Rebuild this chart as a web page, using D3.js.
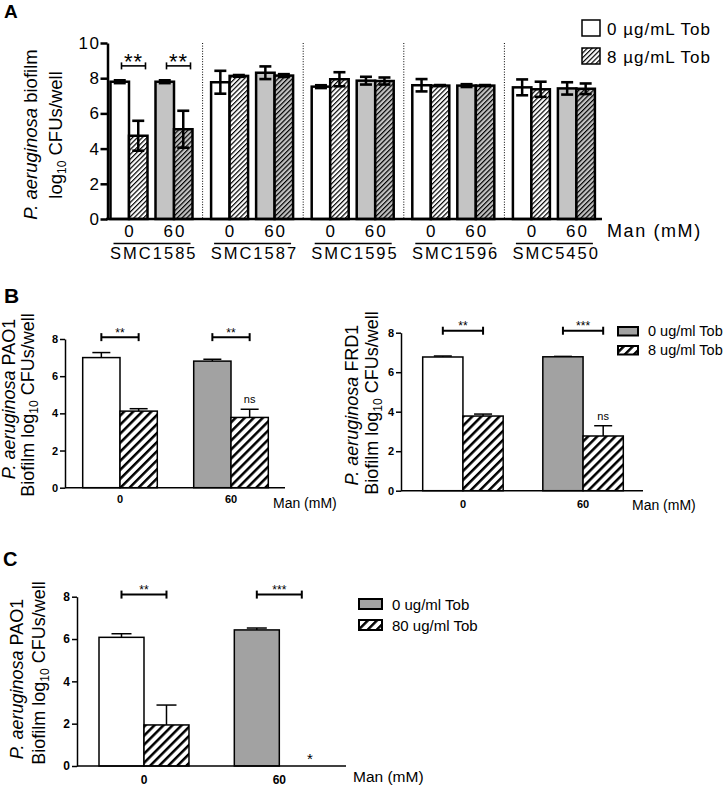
<!DOCTYPE html>
<html><head><meta charset="utf-8">
<script src="https://cdn.jsdelivr.net/npm/d3@7"></script>
<style>body{margin:0;background:#fff} svg{display:block}</style>
</head><body><svg id="c" width="727" height="786"></svg>
<script>
// ================= DATA =================
// Panel A
const strainsA = ["SMC1585", "SMC1587", "SMC1595", "SMC1596", "SMC5450"];
const manA = ["0", "60"];
const tobA = ["0", "8"];
const meanA_m0_t0  = [7.80, 7.77, 7.52, 7.60, 7.48];
const errA_m0_t0   = [0.08, 0.65, 0.08, 0.35, 0.45];
const meanA_m0_t8  = [4.73, 8.13, 7.94, 7.58, 7.37];
const errA_m0_t8   = [0.85, 0.05, 0.40, 0.03, 0.43];
const meanA_m60_t0 = [7.80, 8.31, 7.86, 7.58, 7.42];
const errA_m60_t0  = [0.08, 0.36, 0.22, 0.08, 0.35];
const meanA_m60_t8 = [5.10, 8.15, 7.84, 7.58, 7.40];
const errA_m60_t8  = [1.05, 0.08, 0.20, 0.03, 0.30];
const sigA_strain = "SMC1585";
const sigA_labels = ["**", "**"];
const ticksA = [0, 2, 4, 6, 8, 10];
const legendA = ["0 \u00b5g/mL Tob", "8 \u00b5g/mL Tob"];

// Panel B (left, PAO1)
const manB = ["0", "60"];
const meanB1_t0 = [7.00, 6.81];
const errB1_t0  = [0.27, 0.10];
const meanB1_t8 = [4.12, 3.78];
const errB1_t8  = [0.13, 0.44];
const sigB1 = ["**", "**"];
const noteB1 = ["", "ns"];

// Panel B (right, FRD1)
const meanB2_t0 = [6.77, 6.78];
const errB2_t0  = [0.05, 0.02];
const meanB2_t8 = [3.78, 2.77];
const errB2_t8  = [0.10, 0.52];
const sigB2 = ["**", "***"];
const noteB2 = ["", "ns"];
const legendB = ["0 ug/ml Tob", "8 ug/ml Tob"];

// Panel C (PAO1, 80 ug/ml)
const manC = ["0", "60"];
const meanC_t0  = [6.08, 6.43];
const errC_t0   = [0.17, 0.09];
const meanC_t80 = [1.94, 0.00];
const errC_t80  = [0.94, 0.00];
const sigC = ["**", "***"];
const noteC = ["", "*"];
const legendC = ["0 ug/ml Tob", "80 ug/ml Tob"];

const ticksBC = [0, 2, 4, 6, 8];

// ================= DRAWING =================
const FONT = "'Liberation Sans', Arial, Helvetica, sans-serif";
const GREY_A = "#c4c4c4";
const GREY_B = "#a2a2a2";
const svg = d3.select("#c").attr("font-family", FONT);
svg.append("rect").attr("width", 727).attr("height", 786).attr("fill", "#fff");
const defs = svg.append("defs");

function hatch(id, bg, spacing, sw) {
  const p = defs.append("pattern").attr("id", id)
    .attr("patternUnits", "userSpaceOnUse")
    .attr("width", spacing).attr("height", spacing)
    .attr("patternTransform", "rotate(45)");
  p.append("rect").attr("width", spacing).attr("height", spacing).attr("fill", bg);
  p.append("line").attr("x1", sw / 2).attr("x2", sw / 2).attr("y1", -1).attr("y2", spacing + 1)
    .attr("stroke", "#000").attr("stroke-width", sw);
}
hatch("hA", "#fff", 3.4, 1.2);
hatch("hAg", GREY_A, 3.4, 1.2);
hatch("hB", "#fff", 6.4, 2.5);

// ---------- Panel A ----------
(function () {
  const yA = d3.scaleLinear().domain([0, 10]).range([219, 43]);
  const xA = d3.scaleBand().domain(strainsA).range([102, 605]);
  const xMan = d3.scaleBand().domain(manA).range([8.5, 90.5]).paddingInner(0.178);
  const xTob = d3.scaleBand().domain(tobA).range([0, xMan.bandwidth()]);
  const bw = xTob.bandwidth();

  const rec = [];
  strainsA.forEach((s, i) => {
    rec.push({ s, man: "0", tob: "0", m: meanA_m0_t0[i], e: errA_m0_t0[i] });
    rec.push({ s, man: "0", tob: "8", m: meanA_m0_t8[i], e: errA_m0_t8[i] });
    rec.push({ s, man: "60", tob: "0", m: meanA_m60_t0[i], e: errA_m60_t0[i] });
    rec.push({ s, man: "60", tob: "8", m: meanA_m60_t8[i], e: errA_m60_t8[i] });
  });
  const fill = d => d.man === "0" ? (d.tob === "0" ? "#fff" : "url(#hA)") : (d.tob === "0" ? GREY_A : "url(#hAg)");
  const bx = d => xA(d.s) + xMan(d.man) + xTob(d.tob);

  const g = svg.append("g");
  // dotted separators
  strainsA.slice(0, -1).forEach(s => {
    const xx = xA(s) + xA.step();
    g.append("line").attr("x1", xx).attr("x2", xx).attr("y1", yA(10)).attr("y2", yA(0))
      .attr("stroke", "#000").attr("stroke-width", 1).attr("stroke-dasharray", "1,1.6");
  });

  g.selectAll("rect.bar").data(rec).enter().append("rect").attr("class", "bar")
    .attr("x", bx).attr("y", d => yA(d.m)).attr("width", bw).attr("height", d => yA(0) - yA(d.m))
    .attr("fill", fill).attr("stroke", "#000").attr("stroke-width", 2.5);

  // error bars
  const eb = g.selectAll("g.eb").data(rec).enter().append("g").attr("class", "eb");
  eb.append("line").attr("x1", d => bx(d) + bw / 2).attr("x2", d => bx(d) + bw / 2)
    .attr("y1", d => yA(d.m - d.e)).attr("y2", d => yA(d.m + d.e))
    .attr("stroke", "#000").attr("stroke-width", 2.5);
  [1, -1].forEach(sg => {
    eb.append("line").attr("x1", d => bx(d) + bw / 2 - 6).attr("x2", d => bx(d) + bw / 2 + 6)
      .attr("y1", d => yA(d.m + sg * d.e)).attr("y2", d => yA(d.m + sg * d.e))
      .attr("stroke", "#000").attr("stroke-width", 2.6);
  });

  // axes
  const ax = g.append("g").attr("transform", "translate(107.5,0)")
    .call(d3.axisLeft(yA).tickValues(ticksA).tickSize(7).tickSizeOuter(0).tickPadding(0));
  ax.select(".domain").attr("stroke-width", 2.5);
  ax.selectAll(".tick line").attr("stroke-width", 2.5);
  ax.selectAll(".tick text").attr("font-size", 17).attr("font-family", FONT)
    .attr("letter-spacing", "1.5px").attr("fill", "#000");
  g.append("line").attr("x1", 106).attr("x2", 602).attr("y1", yA(0)).attr("y2", yA(0))
    .attr("stroke", "#000").attr("stroke-width", 2.5);

  // significance
  manA.forEach((mn, k) => {
    const pc = xA(sigA_strain) + xMan(mn) + xMan.bandwidth() / 2;
    const x1 = pc - 7.5, x2 = pc + 16.5, yy = yA(8.7);
    g.append("line").attr("x1", x1).attr("x2", x2).attr("y1", yy).attr("y2", yy).attr("stroke", "#000").attr("stroke-width", 1.6);
    [x1, x2].forEach(xx => g.append("line").attr("x1", xx).attr("x2", xx).attr("y1", yy - 3.5).attr("y2", yy + 3.5).attr("stroke", "#000").attr("stroke-width", 1.6));
    g.append("text").attr("x", (x1 + x2) / 2).attr("y", yy + 3).attr("text-anchor", "middle")
      .attr("font-size", 22).attr("letter-spacing", "1px").text(sigA_labels[k]);
  });

  // x labels
  strainsA.forEach(s => {
    manA.forEach(mn => {
      g.append("text").attr("x", xA(s) + xMan(mn) + xMan.bandwidth() / 2 + 1).attr("y", 236.7)
        .attr("text-anchor", "middle").attr("font-size", 17).attr("letter-spacing", "2px").text(mn);
    });
    g.append("line").attr("x1", xA(s) + 11.5).attr("x2", xA(s) + 88.5).attr("y1", 243.5).attr("y2", 243.5)
      .attr("stroke", "#000").attr("stroke-width", 1.5);
    g.append("text").attr("x", xA(s) + xA.bandwidth() / 2 + 1.5).attr("y", 258.5)
      .attr("text-anchor", "middle").attr("font-size", 16.5).attr("letter-spacing", "2px").text(s);
  });
  g.append("text").attr("x", 607).attr("y", 237).attr("font-size", 18).attr("letter-spacing", "1.6px").text("Man (mM)");

  // y title
  const t1 = g.append("text").attr("transform", "translate(37,134.5) rotate(-90)").attr("text-anchor", "middle").attr("font-size", 18.5);
  t1.append("tspan").attr("font-style", "italic").text("P. aeruginosa");
  t1.append("tspan").text(" biofilm");
  const t2 = g.append("text").attr("transform", "translate(62,135) rotate(-90)").attr("text-anchor", "middle").attr("font-size", 18.5);
  t2.append("tspan").text("log");
  t2.append("tspan").attr("font-size", 12).attr("dy", 4).text("10");
  t2.append("tspan").attr("dy", -4).text(" CFUs/well");

  // legend
  const lf = ["#fff", "url(#hA)"];
  legendA.forEach((t, i) => {
    const ly = 20 + i * 28;
    g.append("rect").attr("x", 582).attr("y", ly).attr("width", 18).attr("height", 16)
      .attr("fill", lf[i]).attr("stroke", "#000").attr("stroke-width", 1.5);
    g.append("text").attr("x", 607).attr("y", ly + 15).attr("font-size", 17).attr("letter-spacing", "1px").text(t);
  });

  svg.append("text").attr("x", 4).attr("y", 18).attr("font-size", 19).attr("font-weight", "bold").text("A");
})();

// ---------- Panels B / C ----------
function panelBC(o) {
  const y = d3.scaleLinear().domain([0, 8]).range([o.y0, o.y8]);
  const x = d3.scaleBand().domain(o.cats).range([o.bx0, o.bx1]).paddingInner(o.pin);
  const xs = d3.scaleBand().domain(["t0", "t1"]).range([0, x.bandwidth()]);
  const bw = xs.bandwidth();
  const rec = [];
  o.cats.forEach((c, i) => {
    rec.push({ c, i, s: "t0", m: o.m0[i], e: o.e0[i] });
    rec.push({ c, i, s: "t1", m: o.m1[i], e: o.e1[i] });
  });
  const bx = d => x(d.c) + xs(d.s);
  const fill = d => d.s === "t1" ? "url(#hB)" : (d.i === 0 ? "#fff" : GREY_B);
  const g = svg.append("g");

  // error bars (up only)
  const er = rec.filter(d => d.e > 0);
  g.selectAll("line.ev").data(er).enter().append("line").attr("class", "ev")
    .attr("x1", d => bx(d) + bw / 2).attr("x2", d => bx(d) + bw / 2)
    .attr("y1", d => y(d.m)).attr("y2", d => y(d.m + d.e)).attr("stroke", "#000").attr("stroke-width", 1.5);
  g.selectAll("line.ec").data(er).enter().append("line").attr("class", "ec")
    .attr("x1", d => bx(d) + bw / 2 - o.cap / 2).attr("x2", d => bx(d) + bw / 2 + o.cap / 2)
    .attr("y1", d => y(d.m + d.e)).attr("y2", d => y(d.m + d.e)).attr("stroke", "#000").attr("stroke-width", 1.5);

  g.selectAll("rect.bar").data(rec.filter(d => d.m > 0)).enter().append("rect").attr("class", "bar")
    .attr("x", bx).attr("y", d => y(d.m)).attr("width", bw).attr("height", d => y(0) - y(d.m))
    .attr("fill", fill).attr("stroke", "#000").attr("stroke-width", 1.5);

  // axes
  const ax = g.append("g").attr("transform", `translate(${o.ax0},0)`)
    .call(d3.axisLeft(y).tickValues(ticksBC).tickSize(5).tickSizeOuter(0).tickPadding(2));
  ax.select(".domain").attr("stroke-width", 1.5);
  ax.selectAll(".tick line").attr("stroke-width", 1.5);
  ax.selectAll(".tick text").attr("font-size", o.tfs).attr("font-weight", "bold").attr("font-family", FONT).attr("fill", "#000");
  g.append("line").attr("x1", o.ax0).attr("x2", o.ax1).attr("y1", y(0)).attr("y2", y(0))
    .attr("stroke", "#000").attr("stroke-width", 1.5);

  // x labels
  o.cats.forEach(c => {
    g.append("text").attr("x", x(c) + x.bandwidth() / 2).attr("y", o.xlY).attr("text-anchor", "middle")
      .attr("font-size", o.tfs).attr("font-weight", "bold").text(c);
  });
  g.append("text").attr("x", o.manX).attr("y", o.manY).attr("font-size", o.manFs).text("Man (mM)");

  // significance brackets
  o.cats.forEach((c, i) => {
    const x1 = x(c) + bw / 2, x2 = x(c) + bw * 1.5, yy = y(8.1);
    g.append("line").attr("x1", x1).attr("x2", x2).attr("y1", yy).attr("y2", yy).attr("stroke", "#000").attr("stroke-width", 2);
    [x1, x2].forEach(xx => g.append("line").attr("x1", xx).attr("x2", xx).attr("y1", yy - 4).attr("y2", yy + 4).attr("stroke", "#000").attr("stroke-width", 2));
    g.append("text").attr("x", (x1 + x2) / 2).attr("y", yy - 0.5).attr("text-anchor", "middle")
      .attr("font-size", 12).text(o.sig[i]);
    if (o.note[i]) {
      const d = rec.find(r => r.c === c && r.s === "t1");
      const isStar = o.note[i] === "*";
      g.append("text").attr("x", bx(d) + bw / 2 + (isStar ? 8 : 0))
        .attr("y", isStar ? y(0) - 2 : y(d.m + d.e) - 6).attr("text-anchor", "middle")
        .attr("font-size", isStar ? 15 : 11).text(o.note[i]);
    }
  });

  // y title
  const t1 = g.append("text").attr("transform", `translate(${o.l1x},${o.l1y}) rotate(-90)`).attr("text-anchor", "middle").attr("font-size", 18);
  t1.append("tspan").attr("font-style", "italic").text("P. aeruginosa");
  t1.append("tspan").text(" " + o.strain);
  const t2 = g.append("text").attr("transform", `translate(${o.l2x},${o.l2y}) rotate(-90)`).attr("text-anchor", "middle").attr("font-size", 18);
  t2.append("tspan").text("Biofilm log");
  t2.append("tspan").attr("font-size", 12).attr("dy", 4).text("10");
  t2.append("tspan").attr("dy", -4).text(" CFUs/well");

  // legend
  if (o.legend) {
    const lf = [GREY_B, "url(#hB)"];
    o.legend.forEach((t, i) => {
      const ly = o.lgY + i * o.lgDy;
      g.append("rect").attr("x", o.lgX).attr("y", ly).attr("width", o.lgW).attr("height", o.lgH)
        .attr("fill", lf[i]).attr("stroke", "#000").attr("stroke-width", 2);
      g.append("text").attr("x", o.lgX + o.lgW + 10).attr("y", ly + o.lgH + 0.5)
        .attr("font-size", o.lgFs).text(t);
    });
  }
}

panelBC({
  cats: manB, m0: meanB1_t0, e0: errB1_t0, m1: meanB1_t8, e1: errB1_t8, sig: sigB1, note: noteB1,
  y0: 487.7, y8: 339, bx0: 82.7, bx1: 268.3, pin: 0.328, ax0: 65, ax1: 285, cap: 18, tfs: 11,
  xlY: 503, manX: 273, manY: 508, manFs: 14, strain: "PAO1",
  l1x: 15, l1y: 399, l2x: 34, l2y: 405
});
panelBC({
  cats: manB, m0: meanB2_t0, e0: errB2_t0, m1: meanB2_t8, e1: errB2_t8, sig: sigB2, note: noteB2,
  y0: 490.7, y8: 332.7, bx0: 422.7, bx1: 623.3, pin: 0.33, ax0: 401, ax1: 643, cap: 18, tfs: 11,
  xlY: 508, manX: 632, manY: 510, manFs: 14, strain: "FRD1",
  l1x: 358, l1y: 405, l2x: 378, l2y: 403,
  legend: legendB, lgX: 618, lgY: 327, lgDy: 19, lgW: 20, lgH: 8.5, lgFs: 14.5
});
panelBC({
  cats: manC, m0: meanC_t0, e0: errC_t0, m1: meanC_t80, e1: errC_t80, sig: sigC, note: noteC,
  y0: 766, y8: 596.7, bx0: 99, bx1: 324.3, pin: 0.335, ax0: 77, ax1: 346, cap: 20, tfs: 12,
  xlY: 784, manX: 353, manY: 782, manFs: 15.5, strain: "PAO1",
  l1x: 23, l1y: 679, l2x: 45, l2y: 673,
  legend: legendC, lgX: 359, lgY: 599, lgDy: 21, lgW: 23, lgH: 10, lgFs: 15
});

svg.append("text").attr("x", 4).attr("y", 303).attr("font-size", 21).attr("font-weight", "bold").text("B");
svg.append("text").attr("x", 3).attr("y", 566).attr("font-size", 20).attr("font-weight", "bold").text("C");
</script>
</body></html>
